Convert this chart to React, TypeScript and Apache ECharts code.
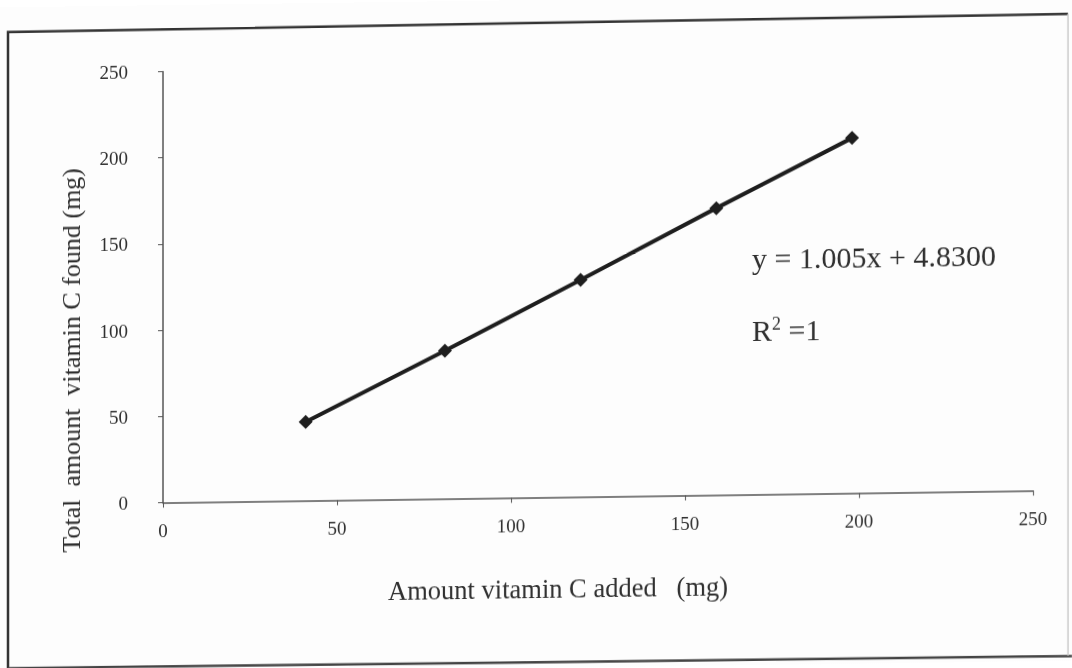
import React, { useEffect, useRef } from "react";
import * as echarts from "echarts";

// Vitamin C recovery: amount added vs. total amount found (mg)
const amountAdded = [41, 81, 120, 159, 198];
const totalFound = [45.7, 85.8, 125.9, 166.4, 206.0];
const xTicks = [0, 50, 100, 150, 200, 250];
const yTicks = [0, 50, 100, 150, 200, 250];
const xTitle = "Amount vitamin C added   (mg)";
const yTitle = "Total  amount  vitamin C found (mg)";
const equation = "y = 1.005x + 4.8300";

const SERIF = "'Liberation Serif', 'Times New Roman', serif";
const INK = "#2f2f2f";

export default function App() {
  const ref = useRef<HTMLDivElement>(null);

  useEffect(() => {
    if (!ref.current) return;
    const chart = echarts.init(ref.current, undefined, { renderer: "svg" });
    const points = amountAdded.map((x, i) => [x, totalFound[i]]);

    chart.setOption({
      animation: false,
      backgroundColor: "#fdfdfd",
      grid: { left: 163, right: 39, top: 66.5, bottom: 170.5, containLabel: false },
      xAxis: {
        type: "value",
        min: xTicks[0],
        max: xTicks[xTicks.length - 1],
        interval: 50,
        name: xTitle,
        nameLocation: "middle",
        nameGap: 78,
        nameTextStyle: {
          fontFamily: SERIF,
          fontSize: 26.5,
          color: INK,
          padding: [0, 80, 0, 0],
        },
        axisLine: { lineStyle: { color: "#555", width: 1.5 } },
        axisTick: { show: true, inside: false, length: 5, lineStyle: { color: "#555" } },
        axisLabel: { fontFamily: SERIF, fontSize: 19, color: INK, margin: 18 },
        splitLine: { show: false },
      },
      yAxis: {
        type: "value",
        min: yTicks[0],
        max: yTicks[yTicks.length - 1],
        interval: 50,
        name: yTitle,
        nameLocation: "middle",
        nameRotate: 90,
        nameGap: 79,
        nameTextStyle: {
          fontFamily: SERIF,
          fontSize: 26,
          color: INK,
          padding: [0, 144, 0, 0],
        },
        axisLine: { show: true, lineStyle: { color: "#555", width: 1.5 } },
        axisTick: { show: true, inside: false, length: 5, lineStyle: { color: "#555" } },
        axisLabel: { fontFamily: SERIF, fontSize: 19, color: INK, margin: 35 },
        splitLine: { show: false },
      },
      series: [
        {
          type: "line",
          data: points,
          symbol: "diamond",
          symbolSize: 14,
          lineStyle: { color: "#1e1e1e", width: 4 },
          itemStyle: { color: "#1e1e1e" },
        },
      ],
      graphic: [
        {
          type: "polyline",
          shape: { points: [[8, 662], [8, 24.7], [1068, 21.3]] },
          style: { stroke: "#333", lineWidth: 2.5, fill: null },
        },
        {
          type: "polyline",
          shape: { points: [[8, 661], [1072, 663.4]] },
          style: { stroke: "#444", lineWidth: 2.5, fill: null },
        },
        {
          type: "line",
          shape: { x1: 1068, y1: 21.3, x2: 1068, y2: 663 },
          style: { stroke: "#ccc", lineWidth: 1.5 },
        },
        {
          type: "text",
          left: 752,
          top: 246,
          style: {
            text: equation,
            font: `30px ${SERIF}`,
            fill: INK,
          },
        },
        {
          type: "text",
          left: 752,
          top: 318,
          style: {
            text: "{r|R}{sup|2}{r| =1}",
            fill: INK,
            rich: {
              r: { fontFamily: SERIF, fontSize: 30, color: INK, verticalAlign: "bottom" },
              sup: { fontFamily: SERIF, fontSize: 18, color: INK, verticalAlign: "top", padding: [0, 0, 12, 0] },
            },
          },
        },
      ],
    });

    return () => chart.dispose();
  }, []);

  // The scanned page sits at a slight slant; a small skew reproduces it.
  return (
    <div
      ref={ref}
      style={{
        position: "fixed",
        left: 0,
        top: 0,
        width: 1072,
        height: 668,
        transform: "skewY(-0.79deg)",
      }}
    />
  );
}
